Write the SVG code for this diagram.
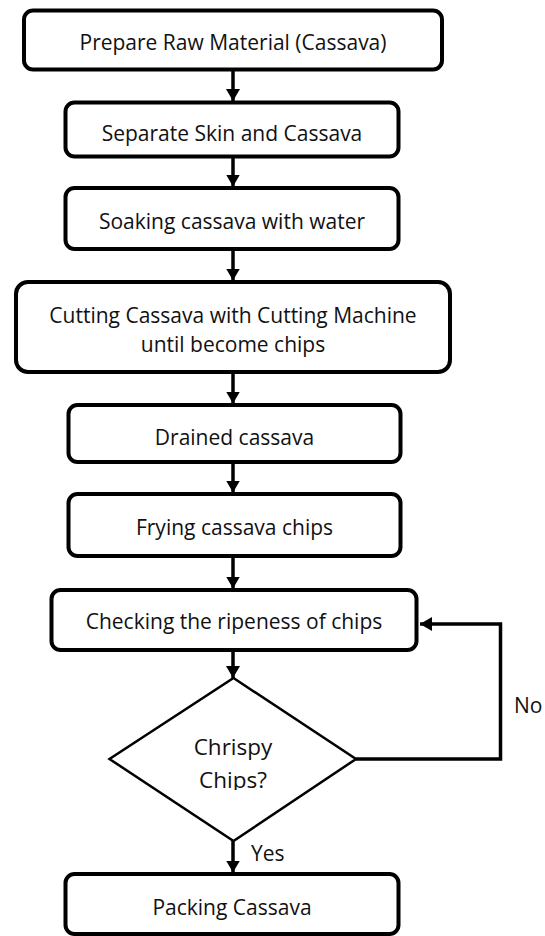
<svg xmlns="http://www.w3.org/2000/svg" width="545" height="936" viewBox="0 0 545 936">
<style>
.box{fill:#fff;stroke:#000;stroke-width:4}
.t{font-family:"Open Sans","Noto Sans","DejaVu Sans",sans-serif;font-size:21px;fill:#111;text-anchor:middle}
.lbl{font-family:"Open Sans","Noto Sans","DejaVu Sans",sans-serif;font-size:21px;fill:#111}
.c{fill:none;stroke:#000;stroke-width:3.5}
.dia{fill:#fff;stroke:#000;stroke-width:2.5}
</style>
<defs>
<marker id="ah" markerUnits="userSpaceOnUse" markerWidth="16" markerHeight="14" refX="12" refY="7" orient="auto">
<path d="M0,0 L12,7 L0,14 Z" fill="#000"/>
</marker>
<clipPath id="clipd"><rect x="100" y="670" width="270" height="120"/></clipPath>
</defs>
<g id="connectors">
<line class="c" x1="233" y1="71" x2="233" y2="101" marker-end="url(#ah)"/>
<line class="c" x1="233" y1="158" x2="233" y2="186.5" marker-end="url(#ah)"/>
<line class="c" x1="233" y1="250" x2="233" y2="280.5" marker-end="url(#ah)"/>
<line class="c" x1="233" y1="373" x2="233" y2="403.5" marker-end="url(#ah)"/>
<line class="c" x1="233" y1="463" x2="233" y2="492.5" marker-end="url(#ah)"/>
<line class="c" x1="233" y1="557" x2="233" y2="588.5" marker-end="url(#ah)"/>
<line class="c" x1="233" y1="651" x2="233" y2="678" marker-end="url(#ah)"/>
<line class="c" x1="233" y1="841" x2="233" y2="872.5" marker-end="url(#ah)"/>
<polyline class="c" points="356,759 500.5,759 500.5,624 420,624" marker-end="url(#ah)"/>
<text class="lbl" x="514" y="713">No</text>
<text class="lbl" x="251" y="861">Yes</text>
</g>
<g id="n1"><rect class="box" x="24" y="10.5" width="418" height="59" rx="9"/><text class="t" x="233" y="50">Prepare Raw Material (Cassava)</text></g>
<g id="n2"><rect class="box" x="65.5" y="102.5" width="333" height="54" rx="9"/><text class="t" x="232" y="141">Separate Skin and Cassava</text></g>
<g id="n3"><rect class="box" x="65.5" y="188" width="333" height="61" rx="9"/><text class="t" x="232" y="228.5">Soaking cassava with water</text></g>
<g id="n4"><rect class="box" x="16" y="282" width="434" height="90" rx="12"/><text class="t" x="233" y="322.5">Cutting Cassava with Cutting Machine</text><text class="t" x="233" y="352">until become chips</text></g>
<g id="n5"><rect class="box" x="68.5" y="405" width="332" height="57" rx="9"/><text class="t" x="234.5" y="444.5">Drained cassava</text></g>
<g id="n6"><rect class="box" x="68.5" y="494" width="332" height="62" rx="9"/><text class="t" x="234.5" y="534.5">Frying cassava chips</text></g>
<g id="n7"><rect class="box" x="51.5" y="590" width="365" height="60" rx="9"/><text class="t" x="234" y="628.5">Checking the ripeness of chips</text></g>
<g id="n8"><polygon class="dia" points="233.5,678 356,759 233.5,841 109.5,759"/><g clip-path="url(#clipd)"><text class="t" x="233" y="755" style="font-size:22.5px">Chrispy</text><text class="t" x="233" y="788" style="font-size:22.5px">Chips?</text></g></g>
<g id="n9"><rect class="box" x="65.5" y="874" width="333" height="60" rx="9"/><text class="t" x="232" y="914.5">Packing Cassava</text></g>
</svg>
